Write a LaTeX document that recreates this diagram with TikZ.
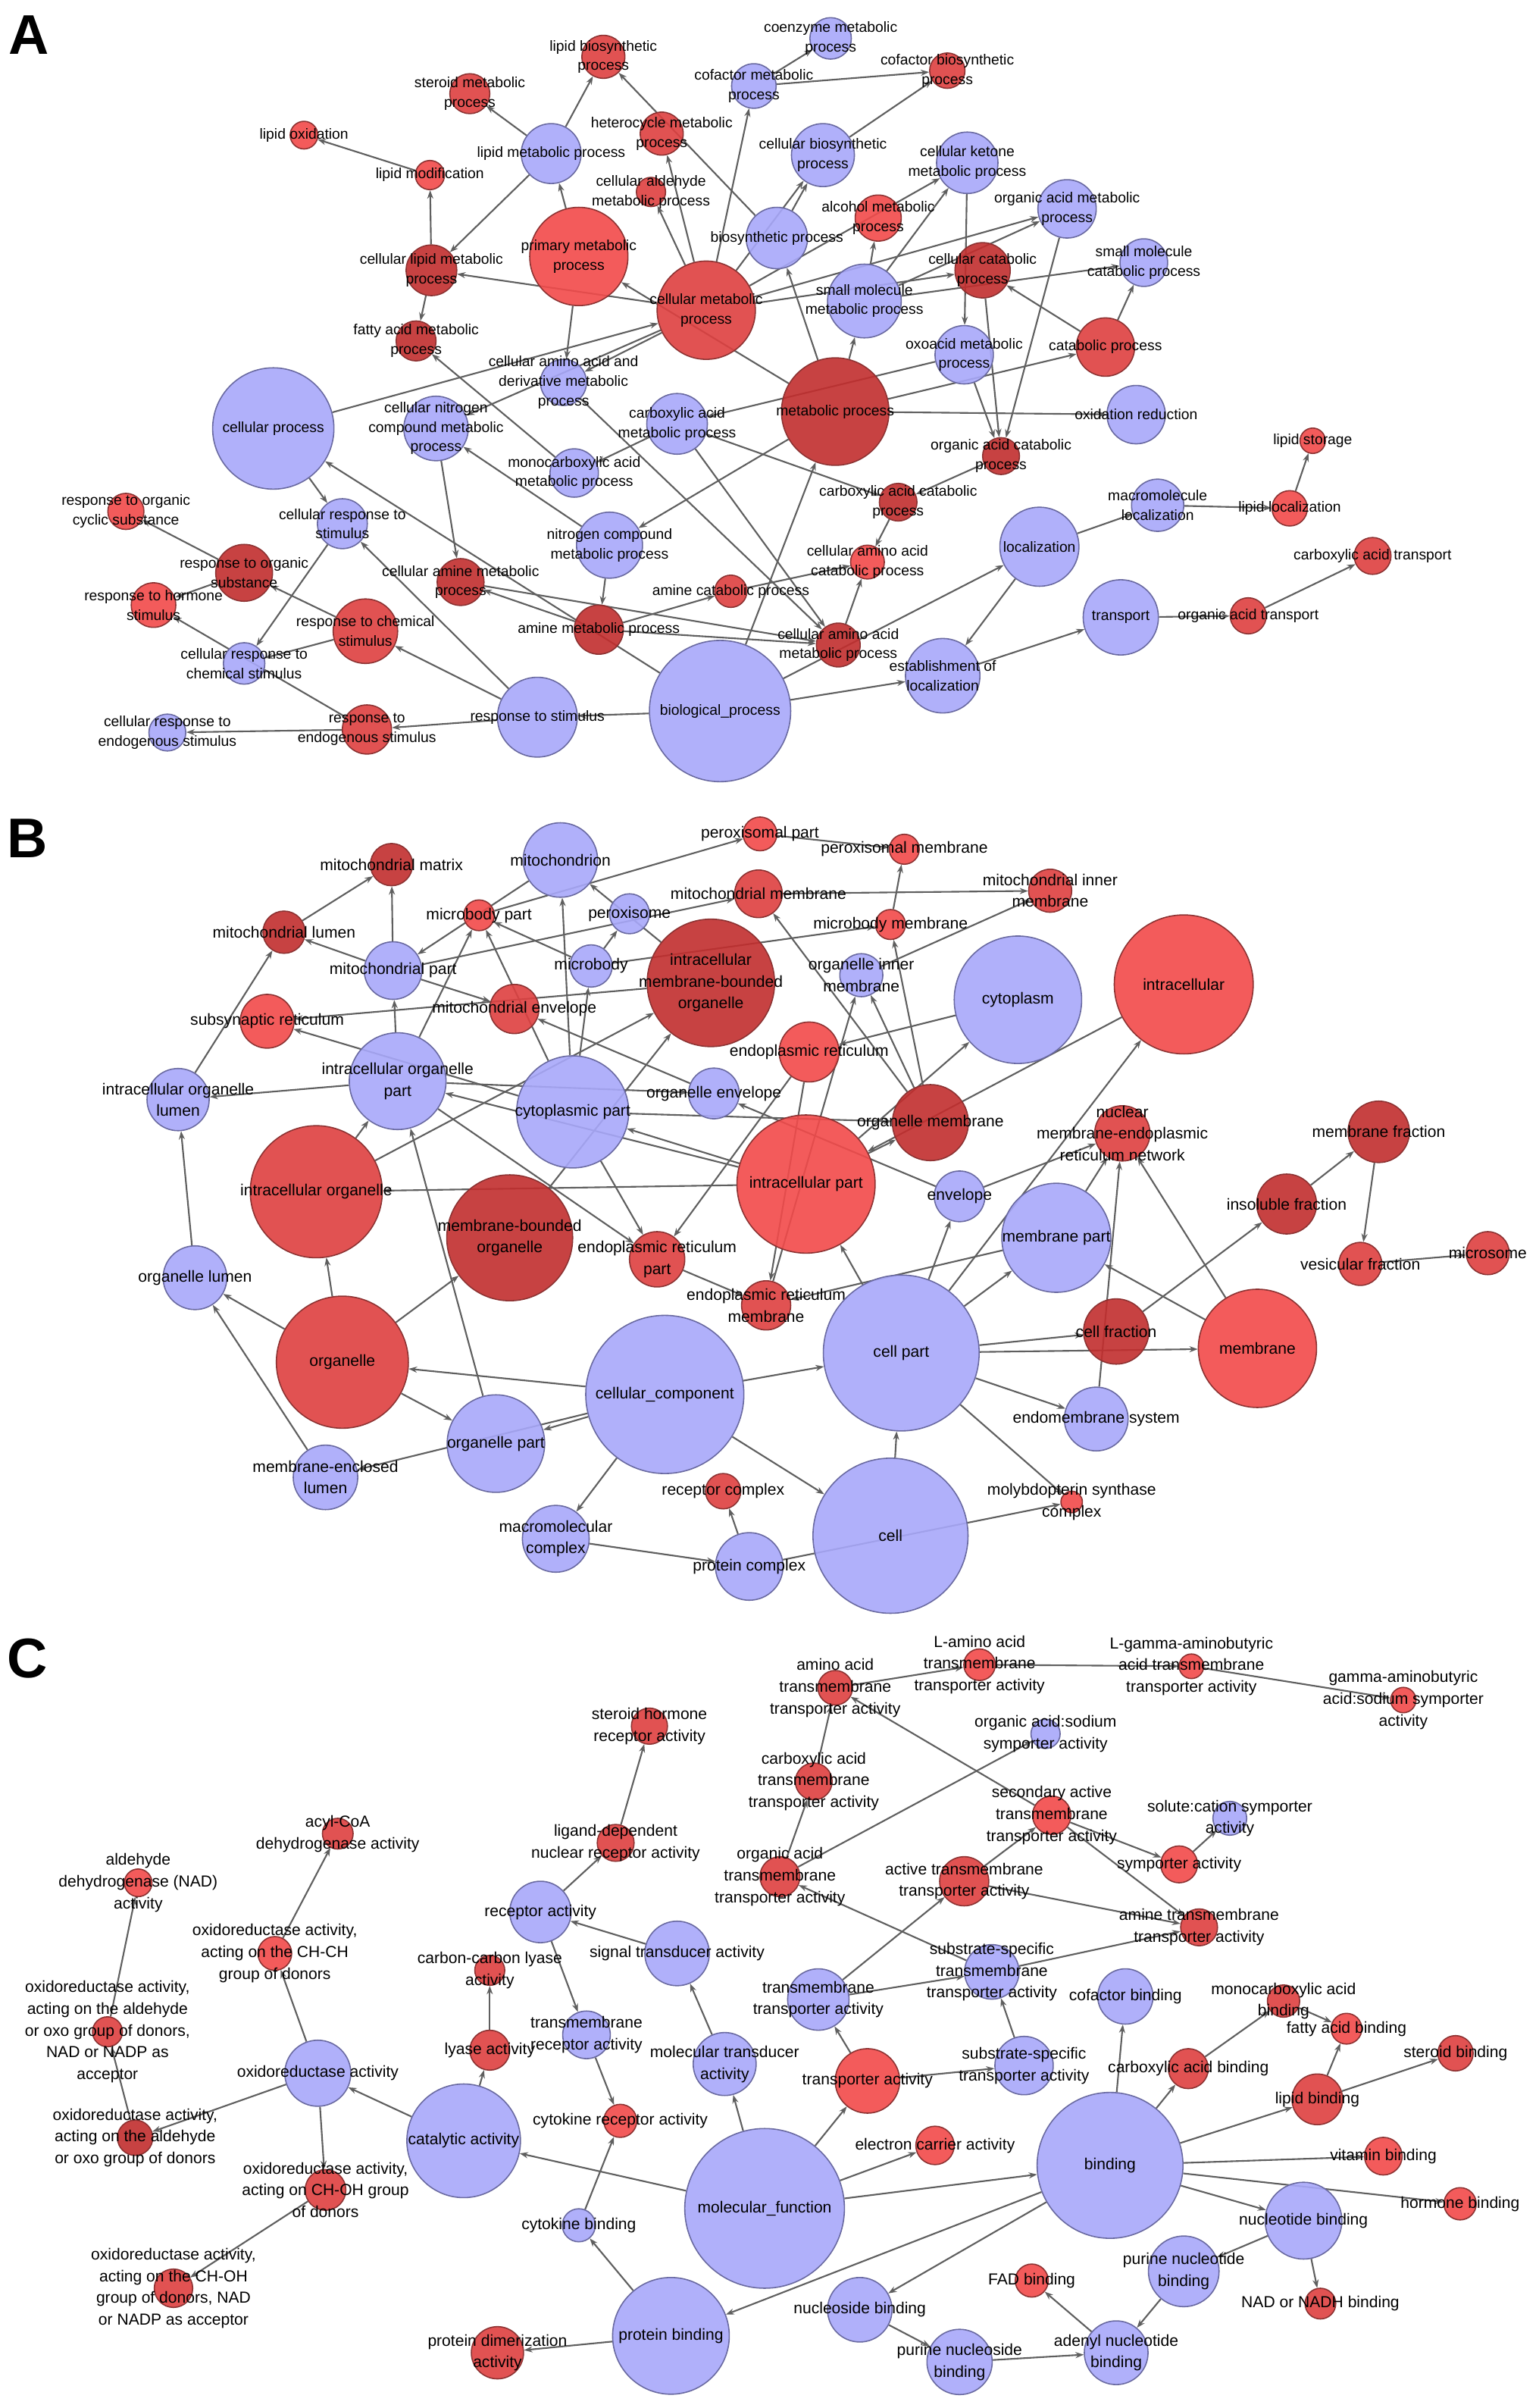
\documentclass[tikz,border=0pt]{standalone}
\usepackage{fontspec}
\setmainfont{Liberation Sans}
\usetikzlibrary{arrows.meta}
\definecolor{gob}{RGB}{168,168,250}
\definecolor{gobd}{RGB}{105,105,160}
\definecolor{gor}{RGB}{242,74,74}
\definecolor{gom}{RGB}{222,64,64}
\definecolor{god}{RGB}{194,46,46}
\definecolor{gord}{RGB}{140,50,50}
\definecolor{edgec}{RGB}{95,95,95}
\pgfdeclarelayer{back}
\pgfdeclarelayer{edges}
\pgfsetlayers{back,edges,main}

\begin{document}
\begin{tikzpicture}[x=0.2027mm, y=-0.2027mm,
  gonode/.style={circle,inner sep=0pt,minimum size=#1*0.2027mm,line width=0.45pt,fill opacity=0.9,text opacity=1},
  bn/.style={gonode=#1,fill=gob,draw=gobd},
  rn/.style={gonode=#1,fill=gor,draw=gord},
  mn/.style={gonode=#1,fill=gom,draw=gord},
  dn/.style={gonode=#1,fill=god,draw=gord},
  lab/.style={align=center,inner sep=0pt,text=black,text opacity=1},
  goedge/.style={draw=edgec,line width=0.6pt,-{Stealth[length=1.1mm,width=0.8mm]}},
  panel/.style={font=\fontsize{21}{21}\selectfont\bfseries}]
  \useasboundingbox (0,0) rectangle (1002,1568);
  \begin{pgfonlayer}{back}
    \fill[white] (0,0) rectangle (1002,1568);
  \end{pgfonlayer}

  \begin{scope}[lab/.append style={font=\fontsize{5.5}{7.3}\selectfont}]
    \node[panel] (pa) at (19,23) {A};
    \node[mn=26,label={[lab]center:{steroid metabolic\\process}}] (steroid) at (306,61) {};
    \node[mn=28,label={[lab]center:{lipid biosynthetic\\process}}] (lipbio) at (393,37) {};
    \node[rn=18,label={[lab]center:{lipid oxidation}}] (lipox) at (198,88) {};
    \node[bn=39,label={[lab]center:{lipid metabolic process}}] (lipmet) at (359,100) {};
    \node[mn=28,label={[lab]center:{heterocycle metabolic\\process}}] (hetero) at (431,87) {};
    \node[rn=19,label={[lab]center:{lipid modification}}] (lipmod) at (280,114) {};
    \node[mn=19,label={[lab]center:{cellular aldehyde\\metabolic process}}] (aldehyde) at (424,125) {};
    \node[rn=64,label={[lab]center:{primary metabolic\\process}}] (primary) at (377,167) {};
    \node[dn=33,label={[lab]center:{cellular lipid metabolic\\process}}] (cellip) at (281,176) {};
    \node[mn=64,label={[lab]center:{cellular metabolic\\process}}] (cellmet) at (460,202) {};
    \node[dn=26,label={[lab]center:{fatty acid metabolic\\process}}] (fatty) at (271,222) {};
    \node[bn=40,label={[lab]center:{biosynthetic process}}] (biosyn) at (506,155) {};
    \node[bn=29,label={[lab]center:{cofactor metabolic\\process}}] (cofmet) at (491,56) {};
    \node[bn=30,label={[lab]center:{cellular amino acid and\\derivative metabolic\\process}}] (aaderiv) at (367,249) {};
    \node[bn=27,label={[lab]center:{coenzyme metabolic\\process}}] (coenz) at (541,25) {};
    \node[mn=23,label={[lab]center:{cofactor biosynthetic\\process}}] (cofbio) at (617,46) {};
    \node[bn=41,label={[lab]center:{cellular biosynthetic\\process}}] (cellbio) at (536,101) {};
    \node[bn=40,label={[lab]center:{cellular ketone\\metabolic process}}] (ketone) at (630,106) {};
    \node[rn=30,label={[lab]center:{alcohol metabolic\\process}}] (alcohol) at (572,142) {};
    \node[bn=38,label={[lab]center:{organic acid metabolic\\process}}] (orgacid) at (695,136) {};
    \node[dn=36,label={[lab]center:{cellular catabolic\\process}}] (cellcat) at (640,176) {};
    \node[bn=31,label={[lab]center:{small molecule\\catabolic process}}] (smallcat) at (745,171) {};
    \node[bn=48,label={[lab]center:{small molecule\\metabolic process}}] (smallmet) at (563,196) {};
    \node[bn=38,label={[lab]center:{oxoacid metabolic\\process}}] (oxoacid) at (628,231) {};
    \node[mn=38,label={[lab]center:{catabolic process}}] (catab) at (720,226) {};
    \node[dn=70,label={[lab]center:{metabolic process}}] (metab) at (544,268) {};
    \node[bn=38,label={[lab]center:{oxidation reduction}}] (oxred) at (740,270) {};
    \node[dn=24,label={[lab]center:{organic acid catabolic\\process}}] (orgcat) at (652,297) {};
    \node[rn=16.5,label={[lab]center:{lipid storage}}] (lipstor) at (855,287) {};
    \node[dn=24.5,label={[lab]center:{carboxylic acid catabolic\\process}}] (carbcat) at (585,327) {};
    \node[bn=34,label={[lab]center:{macromolecule\\localization}}] (macroloc) at (754,329) {};
    \node[rn=23,label={[lab]center:{lipid localization}}] (liploc) at (840,331) {};
    \node[mn=24,label={[lab]center:{carboxylic acid transport}}] (carbtrans) at (894,362) {};
    \node[bn=51.5,label={[lab]center:{localization}}] (local) at (677,356) {};
    \node[rn=22,label={[lab]center:{cellular amino acid\\catabolic process}}] (aacat) at (565,366) {};
    \node[bn=49,label={[lab]center:{transport}}] (transport) at (730,402) {};
    \node[mn=23.5,label={[lab]center:{organic acid transport}}] (orgtrans) at (813,401) {};
    \node[dn=28.5,label={[lab]center:{cellular amino acid\\metabolic process}}] (aamet) at (546,420) {};
    \node[bn=48.5,label={[lab]center:{establishment of\\localization}}] (estab) at (614,440) {};
    \node[bn=92,label={[lab]center:{biological\_process}}] (bio) at (469,463) {};
    \node[bn=79,label={[lab]center:{cellular process}}] (cellproc) at (178,279) {};
    \node[bn=42,label={[lab]center:{cellular nitrogen\\compound metabolic\\process}}] (cellnitro) at (284,279) {};
    \node[bn=39.5,label={[lab]center:{carboxylic acid\\metabolic process}}] (carbmet) at (441,276) {};
    \node[bn=31.5,label={[lab]center:{monocarboxylic acid\\metabolic process}}] (monocarb) at (374,308) {};
    \node[rn=23.5,label={[lab]center:{response to organic\\cyclic substance}}] (orgcyc) at (82,333) {};
    \node[bn=32.5,label={[lab]center:{cellular response to\\stimulus}}] (cellresp) at (223,341) {};
    \node[bn=43,label={[lab]center:{nitrogen compound\\metabolic process}}] (nitro) at (397,355) {};
    \node[dn=37,label={[lab]center:{response to organic\\substance}}] (orgsub) at (159,373) {};
    \node[dn=30.5,label={[lab]center:{cellular amine metabolic\\process}}] (cellamine) at (300,379) {};
    \node[mn=21,label={[lab]center:{amine catabolic process}}] (aminecat) at (476,385) {};
    \node[rn=29,label={[lab]center:{response to hormone\\stimulus}}] (hormone) at (100,394) {};
    \node[mn=42,label={[lab]center:{response to chemical\\stimulus}}] (chem) at (238,411) {};
    \node[dn=32,label={[lab]center:{amine metabolic process}}] (amine) at (390,410) {};
    \node[bn=27,label={[lab]center:{cellular response to\\chemical stimulus}}] (cellchem) at (159,432) {};
    \node[bn=52,label={[lab]center:{response to stimulus}}] (respstim) at (350,467) {};
    \node[mn=32,label={[lab]center:{response to\\endogenous stimulus}}] (endo) at (239,475) {};
    \node[bn=24,label={[lab]center:{cellular response to\\endogenous stimulus}}] (cellendo) at (109,477) {};
  \end{scope}

  \begin{scope}[lab/.append style={font=\fontsize{6}{8.1}\selectfont}]
    \node[panel] (pb) at (18,546) {B};
    \node[dn=27.5,label={[lab]center:{mitochondrial matrix}}] (mmatrix) at (255,563) {};
    \node[bn=48.5,label={[lab]center:{mitochondrion}}] (mchon) at (365,560) {};
    \node[rn=20,label={[lab]center:{microbody part}}] (mbpart) at (312,596) {};
    \node[bn=26,label={[lab]center:{peroxisome}}] (perox) at (410,595) {};
    \node[dn=27.5,label={[lab]center:{mitochondrial lumen}}] (mlumen) at (185,607) {};
    \node[bn=37.5,label={[lab]center:{mitochondrial part}}] (mpart) at (256,632) {};
    \node[bn=27.5,label={[lab]center:{microbody}}] (mbody) at (385,629) {};
    \node[dn=83,label={[lab]center:{intracellular\\membrane-bounded\\organelle}}] (imbo) at (463,640) {};
    \node[rn=35,label={[lab]center:{subsynaptic reticulum}}] (subsyn) at (174,665) {};
    \node[mn=32,label={[lab]center:{mitochondrial envelope}}] (menv) at (335,657) {};
    \node[bn=63,label={[lab]center:{intracellular organelle\\part}}] (iopart) at (259,704) {};
    \node[bn=40.5,label={[lab]center:{intracellular organelle\\lumen}}] (iolumen) at (116,716) {};
    \node[bn=73,label={[lab]center:{cytoplasmic part}}] (cytpart) at (373,724) {};
    \node[bn=33,label={[lab]center:{organelle envelope}}] (oenv) at (465,712) {};
    \node[mn=86,label={[lab]center:{intracellular organelle}}] (iorg) at (206,776) {};
    \node[dn=82,label={[lab]center:{membrane-bounded\\organelle}}] (mbo) at (332,806) {};
    \node[mn=36,label={[lab]center:{endoplasmic reticulum\\part}}] (erpart) at (428,820) {};
    \node[bn=41.5,label={[lab]center:{organelle lumen}}] (olumen) at (127,832) {};
    \node[mn=86,label={[lab]center:{organelle}}] (organelle) at (223,887) {};
    \node[bn=103,label={[lab]center:{cellular\_component}}] (cellcomp) at (433,908) {};
    \node[bn=63.5,label={[lab]center:{organelle part}}] (opart) at (323,940) {};
    \node[bn=42,label={[lab]center:{membrane-enclosed\\lumen}}] (mlum) at (212,962) {};
    \node[mn=23,label={[lab]center:{receptor complex}}] (reccomp) at (471,971) {};
    \node[bn=43.5,label={[lab]center:{macromolecular\\complex}}] (macro) at (362,1002) {};
    \node[bn=44,label={[lab]center:{protein complex}}] (protcomp) at (488,1020) {};
    \node[rn=22,label={[lab]center:{peroxisomal part}}] (perpart) at (495,543) {};
    \node[rn=19.5,label={[lab]center:{peroxisomal membrane}}] (permem) at (589,553) {};
    \node[mn=31,label={[lab]center:{mitochondrial membrane}}] (mmem) at (494,582) {};
    \node[mn=28,label={[lab]center:{mitochondrial inner\\membrane}}] (minner) at (684,580) {};
    \node[rn=19.5,label={[lab]center:{microbody membrane}}] (mbmem) at (580,602) {};
    \node[bn=28,label={[lab]center:{organelle inner\\membrane}}] (oinner) at (561,635) {};
    \node[bn=83,label={[lab]center:{cytoplasm}}] (cytoplasm) at (663,651) {};
    \node[rn=90.5,label={[lab]center:{intracellular}}] (intra) at (771,641) {};
    \node[rn=39,label={[lab]center:{endoplasmic reticulum}}] (er) at (527,685) {};
    \node[dn=49.5,label={[lab]center:{organelle membrane}}] (omem) at (606,731) {};
    \node[mn=36,label={[lab]center:{nuclear\\membrane-endoplasmic\\reticulum network}}] (nuclear) at (731,738) {};
    \node[dn=40,label={[lab]center:{membrane fraction}}] (memfrac) at (898,737) {};
    \node[rn=90,label={[lab]center:{intracellular part}}] (ipart) at (525,771) {};
    \node[bn=33,label={[lab]center:{envelope}}] (env) at (625,779) {};
    \node[dn=39,label={[lab]center:{insoluble fraction}}] (insol) at (838,784) {};
    \node[bn=71,label={[lab]center:{membrane part}}] (mempart) at (688,806) {};
    \node[mn=28,label={[lab]center:{vesicular fraction}}] (vesfrac) at (886,823) {};
    \node[mn=28,label={[lab]center:{microsome}}] (microsome) at (969,816) {};
    \node[mn=32,label={[lab]center:{endoplasmic reticulum\\membrane}}] (ermem) at (499,850) {};
    \node[bn=101.5,label={[lab]center:{cell part}}] (cellpart) at (587,881) {};
    \node[dn=42.5,label={[lab]center:{cell fraction}}] (cellfrac) at (727,867) {};
    \node[rn=77,label={[lab]center:{membrane}}] (membrane) at (819,878) {};
    \node[bn=41.5,label={[lab]center:{endomembrane system}}] (endomem) at (714,924) {};
    \node[bn=101,label={[lab]center:{cell}}] (cell) at (580,1000) {};
    \node[rn=14,label={[lab]center:{molybdopterin synthase\\complex}}] (molyb) at (698,978) {};
  \end{scope}

  \begin{scope}[lab/.append style={font=\fontsize{6}{8.2}\selectfont}]
    \node[panel] (pc) at (18,1080) {C};
    \node[mn=23.5,label={[lab]center:{steroid hormone\\receptor activity}}] (shr) at (423,1124) {};
    \node[mn=20,label={[lab]center:{acyl-CoA\\dehydrogenase activity}}] (acyl) at (220,1194) {};
    \node[mn=24,label={[lab]center:{ligand-dependent\\nuclear receptor activity}}] (ligand) at (401,1200) {};
    \node[rn=18,label={[lab]center:{aldehyde\\dehydrogenase (NAD)\\activity}}] (aldnad) at (90,1226) {};
    \node[bn=40,label={[lab]center:{receptor activity}}] (recact) at (352,1245) {};
    \node[rn=22,label={[lab]center:{oxidoreductase activity,\\acting on the CH-CH\\group of donors}}] (chch) at (179,1272) {};
    \node[bn=42,label={[lab]center:{signal transducer activity}}] (sigtr) at (441,1272) {};
    \node[mn=19.5,label={[lab]center:{carbon-carbon lyase\\activity}}] (cclyase) at (319,1283) {};
    \node[mn=19.5,label={[lab]center:{oxidoreductase activity,\\acting on the aldehyde\\or oxo group of donors,\\NAD or NADP as\\acceptor}}] (aldoxnad) at (70,1323) {};
    \node[rn=20.5,label={[lab]center:{L-amino acid\\transmembrane\\transporter activity}}] (lamino) at (638,1084) {};
    \node[rn=16,label={[lab]center:{L-gamma-aminobutyric\\acid transmembrane\\transporter activity}}] (lgaba) at (776,1085) {};
    \node[mn=22.5,label={[lab]center:{amino acid\\transmembrane\\transporter activity}}] (aatm) at (544,1099) {};
    \node[rn=16.5,label={[lab]center:{gamma-aminobutyric\\acid:sodium symporter\\activity}}] (gabana) at (914,1107) {};
    \node[bn=19,label={[lab]center:{organic acid:sodium\\symporter activity}}] (oana) at (681,1129) {};
    \node[mn=24,label={[lab]center:{carboxylic acid\\transmembrane\\transporter activity}}] (carbtm) at (530,1160) {};
    \node[rn=25,label={[lab]center:{secondary active\\transmembrane\\transporter activity}}] (secact) at (685,1182) {};
    \node[bn=22,label={[lab]center:{solute:cation symporter\\activity}}] (solcat) at (801,1184) {};
    \node[mn=26,label={[lab]center:{organic acid\\transmembrane\\transporter activity}}] (orgtm) at (508,1222) {};
    \node[mn=32,label={[lab]center:{active transmembrane\\transporter activity}}] (acttm) at (628,1225) {};
    \node[rn=24,label={[lab]center:{symporter activity}}] (symp) at (768,1214) {};
    \node[mn=24,label={[lab]center:{amine transmembrane\\transporter activity}}] (aminetm) at (781,1255) {};
    \node[bn=35.5,label={[lab]center:{substrate-specific\\transmembrane\\transporter activity}}] (sstm) at (646,1284) {};
    \node[bn=40,label={[lab]center:{transmembrane\\transporter activity}}] (tmtr) at (533,1302) {};
    \node[bn=36,label={[lab]center:{cofactor binding}}] (cofbind) at (733,1300) {};
    \node[mn=21,label={[lab]center:{monocarboxylic acid\\binding}}] (monobind) at (836,1303) {};
    \node[rn=20,label={[lab]center:{fatty acid binding}}] (fabind) at (877,1321) {};
    \node[mn=23,label={[lab]center:{steroid binding}}] (sterbind) at (948,1337) {};
    \node[rn=42,label={[lab]center:{transporter activity}}] (tract) at (565,1355) {};
    \node[bn=38,label={[lab]center:{substrate-specific\\transporter activity}}] (sstr) at (667,1345) {};
    \node[mn=26,label={[lab]center:{carboxylic acid binding}}] (carbbind) at (774,1347) {};
    \node[mn=33,label={[lab]center:{lipid binding}}] (lipbind) at (858,1367) {};
    \node[rn=25,label={[lab]center:{electron carrier activity}}] (ecarr) at (609,1397) {};
    \node[bn=95,label={[lab]center:{binding}}] (binding) at (723,1410) {};
    \node[rn=24.5,label={[lab]center:{vitamin binding}}] (vitbind) at (901,1404) {};
    \node[rn=21,label={[lab]center:{hormone binding}}] (horbind) at (951,1435) {};
    \node[bn=50,label={[lab]center:{nucleotide binding}}] (ntbind) at (849,1446) {};
    \node[bn=46,label={[lab]center:{purine nucleotide\\binding}}] (pntbind) at (771,1479) {};
    \node[rn=21.5,label={[lab]center:{FAD binding}}] (fad) at (672,1485) {};
    \node[mn=20,label={[lab]center:{NAD or NADH binding}}] (nadh) at (860,1500) {};
    \node[bn=42,label={[lab]center:{nucleoside binding}}] (nsbind) at (560,1504) {};
    \node[bn=41.5,label={[lab]center:{adenyl nucleotide\\binding}}] (adenyl) at (727,1532) {};
    \node[bn=42.5,label={[lab]center:{purine nucleoside\\binding}}] (pnsbind) at (625,1538) {};
    \node[bn=104,label={[lab]center:{molecular\_function}}] (molfun) at (498,1438) {};
    \node[bn=43,label={[lab]center:{oxidoreductase activity}}] (oxact) at (207,1350) {};
    \node[mn=26,label={[lab]center:{lyase activity}}] (lyase) at (319,1335) {};
    \node[bn=31,label={[lab]center:{transmembrane\\receptor activity}}] (tmrec) at (382,1325) {};
    \node[bn=41,label={[lab]center:{molecular transducer\\activity}}] (moltr) at (472,1344) {};
    \node[dn=23,label={[lab]center:{oxidoreductase activity,\\acting on the aldehyde\\or oxo group of donors}}] (aldox) at (88,1392) {};
    \node[bn=74,label={[lab]center:{catalytic activity}}] (catal) at (302,1394) {};
    \node[rn=21.5,label={[lab]center:{cytokine receptor activity}}] (cytrec) at (404,1381) {};
    \node[mn=26.5,label={[lab]center:{oxidoreductase activity,\\acting on CH-OH group\\of donors}}] (choh) at (212,1426) {};
    \node[bn=21.5,label={[lab]center:{cytokine binding}}] (cytbind) at (377,1449) {};
    \node[mn=25,label={[lab]center:{oxidoreductase activity,\\acting on the CH-OH\\group of donors, NAD\\or NADP as acceptor}}] (chohnad) at (113,1490) {};
    \node[bn=76,label={[lab]center:{protein binding}}] (protbind) at (437,1521) {};
    \node[mn=34,label={[lab]center:{protein dimerization\\activity}}] (dimer) at (324,1532) {};
  \end{scope}

  \begin{pgfonlayer}{edges}
    \foreach \a/\b in {lipmet/steroid, lipmet/lipbio, biosyn/lipbio, lipmod/lipox, cellip/lipmod,
      lipmet/cellip, primary/lipmet, cellmet/aldehyde, cellmet/hetero, cellmet/cellip, metab/primary,
      primary/aaderiv, cellip/fatty, monocarb/fatty, cellproc/cellmet, cellmet/aaderiv, cellmet/cellnitro,
      cellmet/cofmet, cofmet/coenz, cofmet/cofbio, cellbio/cofbio, biosyn/cellbio, cellmet/cellbio,
      smallmet/alcohol, smallmet/ketone, cellmet/ketone, ketone/oxoacid, cellmet/cellcat, smallmet/orgacid,
      cellmet/orgacid, smallmet/smallcat, catab/smallcat, catab/cellcat, orgacid/orgcat, cellcat/orgcat,
      metab/catab, metab/smallmet, metab/biosyn, metab/oxred, oxoacid/orgcat, oxoacid/carbmet,
      carbmet/monocarb, carbmet/carbcat, orgcat/carbcat, carbcat/aacat, aamet/aacat, aaderiv/aamet,
      carbmet/aamet, aminecat/aacat, amine/aminecat, amine/aamet, cellamine/aamet, bio/local, local/estab,
      bio/estab, estab/transport, local/macroloc, macroloc/liploc, liploc/lipstor, transport/orgtrans,
      orgtrans/carbtrans, bio/metab, cellproc/cellresp, bio/cellproc, respstim/cellresp, cellresp/cellchem,
      orgsub/orgcyc, orgsub/hormone, chem/orgsub, chem/cellchem, endo/hormone, respstim/chem,
      respstim/endo, endo/cellendo, bio/respstim, cellnitro/cellamine, nitro/amine, amine/cellamine,
      nitro/cellnitro, metab/nitro}
      \draw[goedge] (\a) -- (\b);
    \foreach \a/\b in {mlumen/mmatrix, mpart/mmatrix, mpart/mlumen, iolumen/mlumen, iopart/mpart,
      mchon/mpart, iopart/mbpart, mbody/mbpart, mbpart/perpart, mpart/mmem, imbo/mchon, mbody/perox,
      cytpart/mchon, cytpart/mbody, mpart/menv, cytpart/mbpart, oenv/menv, imbo/subsyn, cytpart/subsyn,
      iopart/iolumen, olumen/iolumen, iorg/iopart, iorg/imbo, ipart/cytpart, ipart/iopart, ipart/iorg,
      iopart/oenv, env/oenv, mbo/imbo, perpart/permem, mbmem/permem, mmem/minner, oinner/minner,
      mbody/mbmem, omem/oinner, ermem/oinner, omem/mbmem, omem/mmem, ipart/cytoplasm, cytoplasm/er,
      intra/ipart, ipart/omem, cytpart/omem, mempart/nuclear, endomem/nuclear, membrane/nuclear,
      env/nuclear, memfrac/vesfrac, insol/memfrac, vesfrac/microsome, cellfrac/insol, cellpart/cellfrac,
      cellpart/membrane, cellpart/endomem, cellpart/molyb, protcomp/molyb, cell/cellpart,
      cellcomp/cellpart, cellcomp/cell, cellcomp/organelle, organelle/opart, cellcomp/opart,
      cellcomp/mlum, mlum/olumen, organelle/olumen, organelle/iorg, organelle/mbo, opart/iopart,
      erpart/ermem, er/erpart, cytpart/erpart, iopart/erpart, mempart/ermem, er/ermem, cellpart/mempart,
      cellpart/env, cellpart/intra, cellpart/ipart, membrane/mempart, macro/protcomp, cellcomp/macro,
      protcomp/reccomp}
      \draw[goedge] (\a) -- (\b);
    \foreach \a/\b in {ligand/shr, recact/ligand, chch/acyl, oxact/chch, aldox/aldoxnad,
      aldoxnad/aldnad, sigtr/recact, recact/tmrec, lyase/cclyase, moltr/sigtr, catal/lyase, catal/oxact,
      oxact/aldox, oxact/choh, choh/chohnad, tmrec/cytrec, cytbind/cytrec, protbind/cytbind,
      protbind/dimer, molfun/catal, molfun/moltr, binding/protbind, aatm/lamino, lamino/lgaba,
      lgaba/gabana, carbtm/aatm, orgtm/carbtm, secact/aatm, orgtm/oana, secact/symp, symp/solcat,
      acttm/secact, sstm/aminetm, acttm/aminetm, secact/aminetm, sstm/orgtm, tmtr/acttm, tmtr/sstm,
      sstr/sstm, tract/tmtr, tract/sstr, molfun/tract, molfun/ecarr, molfun/binding, binding/cofbind,
      binding/carbbind, carbbind/monobind, monobind/fabind, lipbind/fabind, lipbind/sterbind,
      binding/lipbind, binding/vitbind, binding/horbind, binding/ntbind, ntbind/pntbind, ntbind/nadh,
      pntbind/adenyl, adenyl/fad, pnsbind/adenyl, nsbind/pnsbind, binding/nsbind}
      \draw[goedge] (\a) -- (\b);
  \end{pgfonlayer}
\end{tikzpicture}
\end{document}
